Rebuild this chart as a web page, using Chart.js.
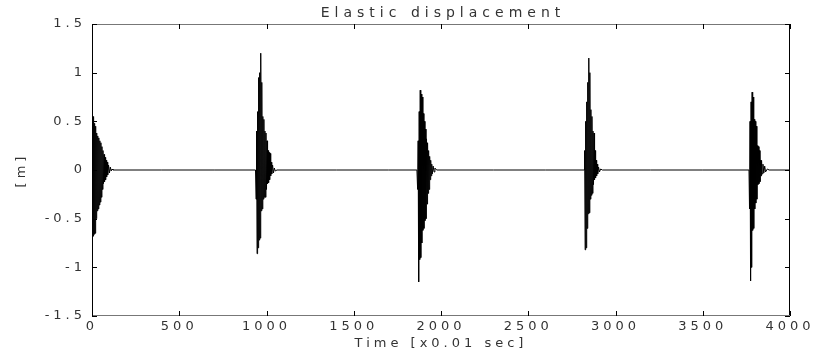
<!DOCTYPE html>
<html>
<head>
<meta charset="utf-8">
<script src="https://cdn.jsdelivr.net/npm/chart.js@4.4.1/dist/chart.umd.min.js"></script>
<style>
  html, body { margin: 0; padding: 0; background: #ffffff; }
  #wrap { width: 817px; height: 359px; }
</style>
</head>
<body>
<div id="wrap"><canvas id="c" width="817" height="359"></canvas></div>
<script>
// ---- Data ----
const chartTitle = 'Elastic displacement';
const xAxisTitle = 'Time [x0.01 sec]';
const yAxisTitle = '[m]';

const xTickValues = [0, 500, 1000, 1500, 2000, 2500, 3000, 3500, 4000];
const xTickLabels = ['0', '500', '1000', '1500', '2000', '2500', '3000', '3500', '4000'];
const yTickValues = [-1.5, -1, -0.5, 0, 0.5, 1, 1.5];
const yTickLabels = ['-1.5', '-1', '-0.5', '0', '0.5', '1', '1.5'];

// Burst 1 (impact near t = 0)
const burst1Time  = [0, 3, 6, 9, 12, 15, 18, 21, 24, 27, 30, 33, 36, 39, 42, 45, 48, 51, 54, 57, 60, 63, 66, 69, 72, 75, 78, 81, 84, 87, 90, 95, 100, 105, 110, 115, 120];
const burst1Value = [0, 0.5, -0.68, 0.55, -0.66, 0.48, -0.65, 0.45, -0.5, 0.38, -0.42, 0.35, -0.4, 0.33, -0.36, 0.3, -0.33, 0.28, -0.28, 0.24, -0.2, 0.2, -0.14, 0.16, -0.12, 0.13, -0.1, 0.1, -0.07, 0.08, -0.05, 0.05, -0.03, 0.03, -0.01, 0.01, 0];

// Burst 2 (near t = 950)
const burst2Time  = [937, 940, 943, 946, 949, 952, 955, 958, 961, 964, 967, 970, 973, 976, 979, 982, 985, 988, 991, 994, 997, 1000, 1003, 1006, 1009, 1012, 1015, 1018, 1021, 1024, 1027, 1030, 1035, 1040, 1045, 1050, 1060];
const burst2Value = [0, -0.3, 0.4, -0.86, 0.6, -0.8, 0.95, -0.72, 1.0, -0.7, 1.2, -0.42, 0.9, -0.4, 0.55, -0.3, 0.52, -0.28, 0.4, -0.28, 0.38, -0.2, 0.3, -0.14, 0.2, -0.13, 0.18, -0.1, 0.17, -0.06, 0.08, -0.04, 0.05, -0.03, 0.02, -0.01, 0];

// Burst 3 (near t = 1870)
const burst3Time  = [1862, 1866, 1869, 1872, 1875, 1878, 1881, 1884, 1887, 1890, 1893, 1896, 1899, 1902, 1905, 1908, 1911, 1914, 1917, 1920, 1923, 1926, 1929, 1932, 1935, 1938, 1941, 1944, 1947, 1950, 1955, 1960, 1965, 1975];
const burst3Value = [0, -0.2, 0.3, -1.15, 0.6, -0.92, 0.82, -0.9, 0.78, -0.75, 0.75, -0.62, 0.58, -0.6, 0.5, -0.52, 0.42, -0.5, 0.32, -0.35, 0.28, -0.24, 0.2, -0.2, 0.14, -0.1, 0.1, -0.06, 0.06, -0.04, 0.04, -0.02, 0.02, 0];

// Burst 4 (near t = 2830)
const burst4Time  = [2820, 2823, 2826, 2829, 2832, 2835, 2838, 2841, 2844, 2847, 2850, 2853, 2856, 2859, 2862, 2865, 2868, 2871, 2874, 2877, 2880, 2883, 2886, 2889, 2892, 2895, 2898, 2903, 2908, 2915, 2925];
const burst4Value = [0, 0.2, -0.82, 0.5, -0.8, 0.7, -0.6, 0.9, -0.45, 1.15, -0.44, 1.0, -0.3, 0.62, -0.26, 0.55, -0.24, 0.4, -0.15, 0.38, -0.1, 0.2, -0.08, 0.1, -0.06, 0.06, -0.04, 0.03, -0.02, 0.01, 0];

// Burst 5 (near t = 3770)
const burst5Time  = [3765, 3768, 3771, 3774, 3777, 3780, 3783, 3786, 3789, 3792, 3795, 3798, 3801, 3804, 3807, 3810, 3813, 3816, 3819, 3822, 3825, 3828, 3831, 3834, 3837, 3840, 3845, 3850, 3855, 3860, 3870, 3880];
const burst5Value = [0, -0.4, 0.5, -1.14, 0.7, -1.0, 0.8, -0.62, 0.75, -0.6, 0.52, -0.4, 0.5, -0.34, 0.45, -0.3, 0.25, -0.15, 0.24, -0.14, 0.2, -0.12, 0.1, -0.06, 0.1, -0.04, 0.06, -0.03, 0.04, -0.02, 0.01, 0];

// Quiet stretches between bursts
const restTime  = [400, 700, 1400, 1700, 2300, 2600, 3200, 3500, 4000];
const restValue = [0, 0, 0, 0, 0, 0, 0, 0, 0];

// ---- Build the single series ----
function pairs(t, v) { return t.map((x, i) => ({ x: x, y: v[i] })); }
const points = [].concat(
  pairs(burst1Time, burst1Value),
  pairs(burst2Time, burst2Value),
  pairs(burst3Time, burst3Value),
  pairs(burst4Time, burst4Value),
  pairs(burst5Time, burst5Value),
  pairs(restTime, restValue)
).sort((a, b) => a.x - b.x);

const FONT = 'DejaVu Sans';
const TEXT = '#333333';

const framePlugin = {
  id: 'frame',
  beforeDraw(chart) {
    chart.ctx.letterSpacing = '4px';
  },
  afterDatasetsDraw(chart) {
    const { ctx, chartArea: a, scales } = chart;
    ctx.save();
    ctx.lineWidth = 1;
    // left / right borders
    ctx.strokeStyle = '#000000';
    ctx.beginPath();
    ctx.moveTo(a.left + 0.5, a.top); ctx.lineTo(a.left + 0.5, a.bottom);
    ctx.moveTo(a.right - 0.5, a.top); ctx.lineTo(a.right - 0.5, a.bottom);
    ctx.stroke();
    // top / bottom borders (faint in the scan)
    ctx.strokeStyle = '#777777';
    ctx.beginPath();
    ctx.moveTo(a.left, a.top + 0.5); ctx.lineTo(a.right, a.top + 0.5);
    ctx.moveTo(a.left, a.bottom - 0.5); ctx.lineTo(a.right, a.bottom - 0.5);
    ctx.stroke();
    // inward tick marks
    ctx.strokeStyle = '#000000';
    ctx.beginPath();
    xTickValues.forEach(v => {
      const px = Math.round(scales.x.getPixelForValue(v)) + 0.5;
      ctx.moveTo(px, a.bottom); ctx.lineTo(px, a.bottom - 5);
      ctx.moveTo(px, a.top); ctx.lineTo(px, a.top + 5);
    });
    yTickValues.forEach(v => {
      const py = Math.round(scales.y.getPixelForValue(v)) + 0.5;
      ctx.moveTo(a.left, py); ctx.lineTo(a.left + 5, py);
      ctx.moveTo(a.right, py); ctx.lineTo(a.right - 5, py);
    });
    ctx.stroke();
    ctx.restore();
  },
  afterDraw(chart) {
    const { ctx, chartArea: a } = chart;
    ctx.save();
    ctx.letterSpacing = '5px';
    ctx.font = '14px "' + FONT + '"';
    ctx.fillStyle = TEXT;
    ctx.textAlign = 'center';
    ctx.textBaseline = 'middle';
    ctx.fillText(chartTitle, (a.left + a.right) / 2 + 2, 13);
    ctx.restore();
  }
};

new Chart(document.getElementById('c'), {
  type: 'line',
  data: {
    datasets: [{
      data: points,
      borderColor: '#000000',
      borderWidth: 1,
      pointRadius: 0,
      tension: 0,
      fill: false
    }]
  },
  options: {
    responsive: false,
    devicePixelRatio: 1,
    animation: false,
    events: [],
    layout: { padding: { left: 0, right: 27, top: 24, bottom: 0 } },
    plugins: {
      legend: { display: false },
      title: { display: false },
      tooltip: { enabled: false }
    },
    scales: {
      x: {
        type: 'linear',
        min: 0, max: 4000,
        grid: { display: false, drawTicks: false },
        border: { display: false },
        afterBuildTicks(scale) { scale.ticks = xTickValues.map(v => ({ value: v })); },
        afterFit(scale) { scale.height = 43; },
        ticks: {
          autoSkip: false,
          maxRotation: 0,
          padding: 3,
          color: TEXT,
          font: { family: FONT, size: 13 },
          callback(value) { const i = xTickValues.indexOf(value); return i >= 0 ? xTickLabels[i] : ''; }
        },
        title: {
          display: true,
          text: xAxisTitle,
          color: TEXT,
          font: { family: FONT, size: 13 },
          padding: { top: 0, bottom: 8 }
        }
      },
      y: {
        type: 'linear',
        min: -1.5, max: 1.5,
        grid: { display: false, drawTicks: false },
        border: { display: false },
        afterBuildTicks(scale) { scale.ticks = yTickValues.map(v => ({ value: v })); },
        afterFit(scale) { scale.width = 92; },
        ticks: {
          autoSkip: false,
          padding: 6,
          color: TEXT,
          font: { family: FONT, size: 13 },
          callback(value) { const i = yTickValues.indexOf(value); return i >= 0 ? yTickLabels[i] : ''; }
        },
        title: {
          display: true,
          text: yAxisTitle,
          color: TEXT,
          font: { family: FONT, size: 13 },
          padding: { top: 14, bottom: 0 }
        }
      }
    }
  },
  plugins: [framePlugin]
});
</script>
</body>
</html>
